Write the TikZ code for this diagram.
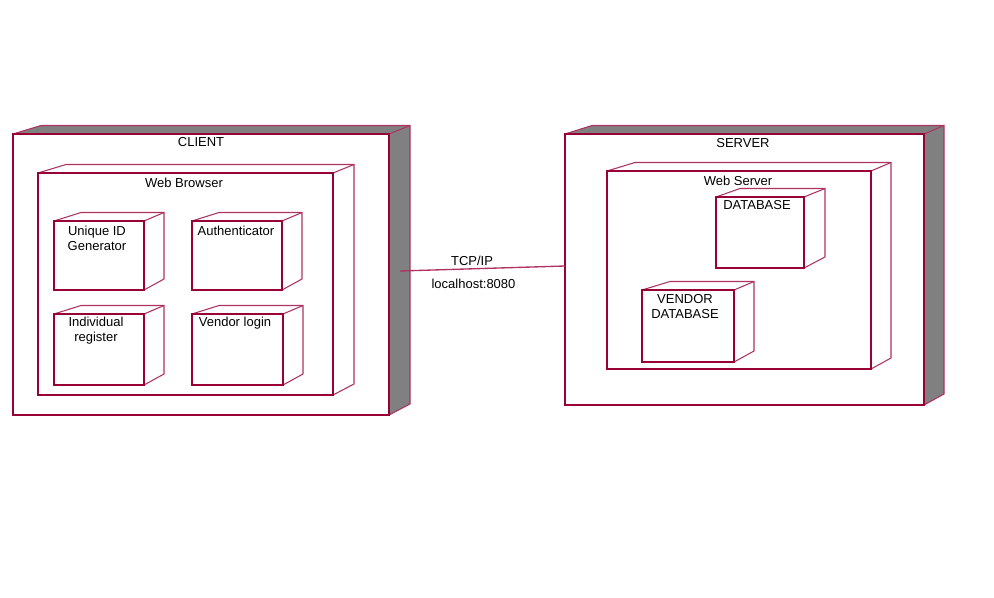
\documentclass[tikz,border=0pt]{standalone}
\usepackage{fontspec}
\setmainfont{Liberation Sans}
\definecolor{rosered}{RGB}{153,0,51}
\definecolor{roseback}{RGB}{175,50,100}
\definecolor{depthgray}{RGB}{128,128,128}
\tikzset{
  boxfront/.style={draw=rosered, line width=1.15pt, fill=white, inner sep=0pt, outer sep=0pt},
  boxback/.style={draw=roseback, line width=0.8pt, line join=miter},
  lbl/.style={font=\fontsize{9.75}{11.25}\selectfont, inner sep=0pt, align=center, text=black},
  link/.style={draw=roseback, line width=1pt}
}
% name, x1, y1, x2, y2, left depth, right depth, depth fill
\newcommand\udnode[8]{%
  \fill[#8] (#2,#3) -- (#2+#6,#3-8.5) -- (#4+#7,#3-8.5) -- (#4+#7,#5-11) -- (#4,#5) -- (#4,#3) -- cycle;
  \draw[boxback] (#2,#3) -- (#2+#6,#3-8.5) -- (#4+#7,#3-8.5) -- (#4+#7,#5-11) -- (#4,#5);
  \draw[boxback] (#4,#3) -- (#4+#7,#3-8.5);
  \node[boxfront, minimum width={(#4-#2)*0.75pt}, minimum height={(#5-#3)*0.75pt}, anchor=north west] (#1) at (#2,#3) {};
}
\begin{document}
\begin{tikzpicture}[x=0.75pt,y=-0.75pt]
\useasboundingbox (0,0) rectangle (994,598);
% CLIENT side
\udnode{client}{13}{134}{389}{415}{28}{21}{depthgray}
\node[lbl] (clientlbl) at (201,142.5) {CLIENT};
\udnode{browser}{38}{173}{333}{395}{28}{21}{white}
\node[lbl] (browserlbl) at (184,182.5) {Web Browser};
\udnode{uid}{54}{221}{144}{290}{27}{20}{white}
\node[lbl] (uidlbl) at (97,238) {Unique ID\\Generator};
\udnode{auth}{192}{221}{282}{290}{27}{20}{white}
\node[lbl] (authlbl) at (236,230.5) {Authenticator};
\udnode{indiv}{54}{314}{144}{385}{27}{20}{white}
\node[lbl] (indivlbl) at (96,331) {Individual\\register};
\udnode{vlogin}{192}{314}{283}{385}{27}{20}{white}
\node[lbl] (vloginlbl) at (235,323.5) {Vendor login};
% SERVER side
\udnode{server}{565}{134}{924}{405}{27}{20}{depthgray}
\node[lbl] (serverlbl) at (743,143.5) {SERVER};
\udnode{webserver}{607}{171}{871}{369}{28}{20}{white}
\node[lbl] (webserverlbl) at (738,180.5) {Web Server};
\udnode{db}{716}{197}{804}{268}{24}{21}{white}
\node[lbl] (dblbl) at (757,205.5) {DATABASE};
\udnode{vdb}{642}{290}{734}{362}{28}{20}{white}
\node[lbl] (vdblbl) at (685,306.5) {VENDOR\\DATABASE};
% connection
\coordinate (cstart) at (400,271);
\coordinate (send) at (server.west |- 0,266);
\draw[link] (cstart) -- (send);
\node[lbl] (tcplbl) at (472,260.5) {TCP/IP};
\node[lbl] (hostlbl) at (473.5,283.5) {localhost:8080};
\end{tikzpicture}
\end{document}
